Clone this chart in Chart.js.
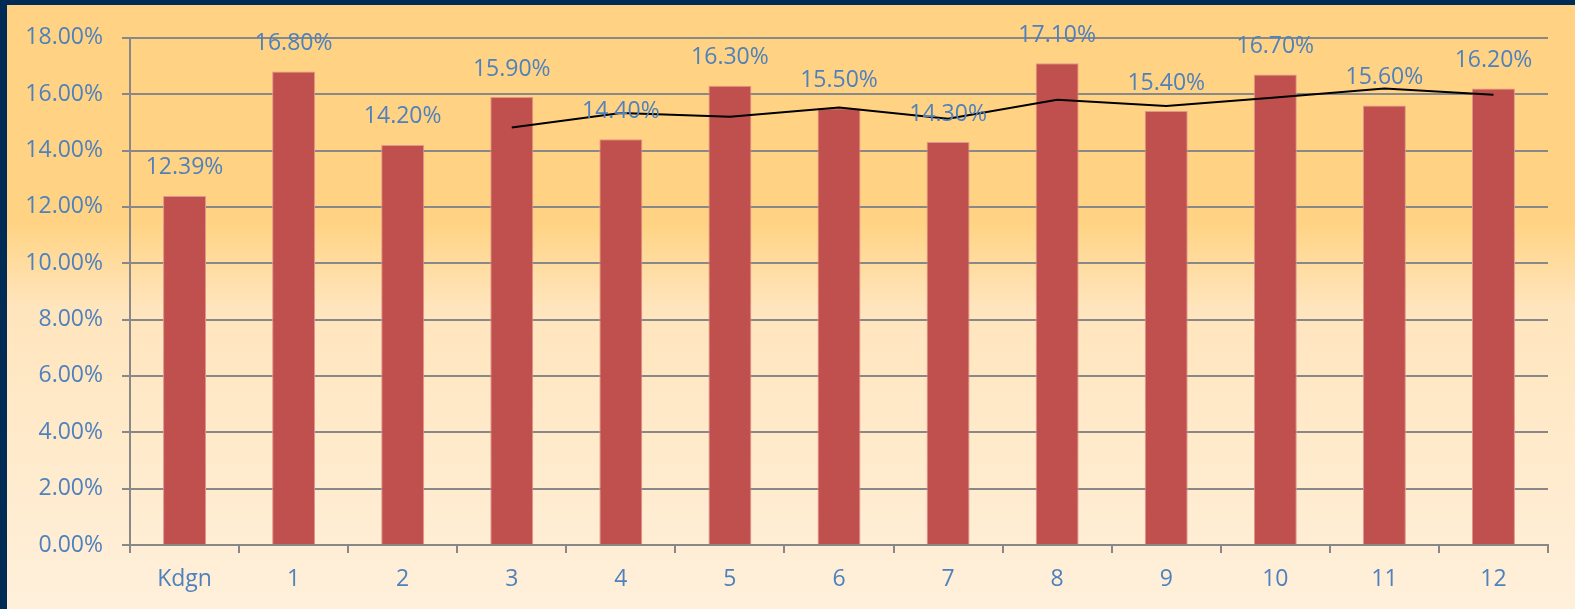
<!DOCTYPE html>
<html>
<head>
<meta charset="utf-8">
<script src="https://cdn.jsdelivr.net/npm/chart.js@4"></script>
<style>
  html, body { margin: 0; padding: 0; background: #002B55; width: 1575px; height: 609px; overflow: hidden; }
  #wrap { position: absolute; left: 7px; top: 5px; width: 1568px; height: 604px; }
</style>
</head>
<body>
<div id="wrap"><canvas id="c"></canvas></div>
<script>
const categories = ['Kdgn', '1', '2', '3', '4', '5', '6', '7', '8', '9', '10', '11', '12'];
const barValues = [12.39, 16.80, 14.20, 15.90, 14.40, 16.30, 15.50, 14.30, 17.10, 15.40, 16.70, 15.60, 16.20];
const trendValues = [null, null, null, 14.82, 15.33, 15.20, 15.53, 15.13, 15.80, 15.58, 15.88, 16.20, 15.98];
const yTicks = [0, 2, 4, 6, 8, 10, 12, 14, 16, 18];

const FONT = "'Open Sans', 'DejaVu Sans', sans-serif";
const BLUE = '#4F81BD';
const GRID = '#888888';

const bgPlugin = {
  id: 'bg',
  beforeDraw(chart) {
    const { ctx, width, height } = chart;
    const g = ctx.createLinearGradient(0, 0, 0, height);
    g.addColorStop(0, '#FFD383');
    g.addColorStop(0.36, '#FFD383');
    g.addColorStop(0.50, '#FFE5BD');
    g.addColorStop(1, '#FFF0DB');
    ctx.save();
    ctx.fillStyle = g;
    ctx.fillRect(0, 0, width, height);
    ctx.restore();
  }
};

const labelPlugin = {
  id: 'barLabels',
  afterDatasetsDraw(chart) {
    const meta = chart.getDatasetMeta(0);
    const ctx = chart.ctx;
    ctx.save();
    ctx.font = '23px ' + FONT;
    ctx.fillStyle = BLUE;
    ctx.textAlign = 'center';
    ctx.textBaseline = 'middle';
    meta.data.forEach((el, i) => {
      ctx.fillText(barValues[i].toFixed(2) + '%', el.x, el.y - 28);
    });
    ctx.restore();
  }
};

new Chart(document.getElementById('c'), {
  type: 'bar',
  data: {
    labels: categories,
    datasets: [
      {
        type: 'bar',
        data: barValues,
        backgroundColor: '#C0504D',
        borderColor: '#E0968E',
        borderWidth: 1,
        barPercentage: 0.394,
        categoryPercentage: 1.0,
        order: 2
      },
      {
        type: 'line',
        data: trendValues,
        borderColor: '#000000',
        borderWidth: 2,
        pointRadius: 0,
        tension: 0,
        fill: false,
        spanGaps: false,
        order: 1
      }
    ]
  },
  options: {
    responsive: true,
    maintainAspectRatio: false,
    animation: false,
    events: [],
    layout: { padding: { top: 30, right: 27, bottom: 0, left: 0 } },
    plugins: { legend: { display: false }, tooltip: { enabled: false } },
    scales: {
      x: {
        grid: { display: true, drawOnChartArea: false, drawTicks: true, tickLength: 8, color: GRID, lineWidth: 2, offset: true },
        border: { display: true, color: GRID, width: 2 },
        ticks: { color: BLUE, font: { family: FONT, size: 23 }, padding: 13, maxRotation: 0 },
        afterFit(scale) { scale.height = 64; }
      },
      y: {
        min: 0,
        max: 18,
        afterBuildTicks(scale) { scale.ticks = yTicks.map(v => ({ value: v })); },
        grid: { color: GRID, lineWidth: 2, tickLength: 8, drawTicks: true },
        border: { display: true, color: GRID, width: 2 },
        ticks: {
          color: BLUE,
          font: { family: FONT, size: 23 },
          padding: 19,
          callback: v => Number(v).toFixed(2) + '%'
        },
        afterFit(scale) { scale.width = 123; }
      }
    }
  },
  plugins: [bgPlugin, labelPlugin]
});
</script>
</body>
</html>
